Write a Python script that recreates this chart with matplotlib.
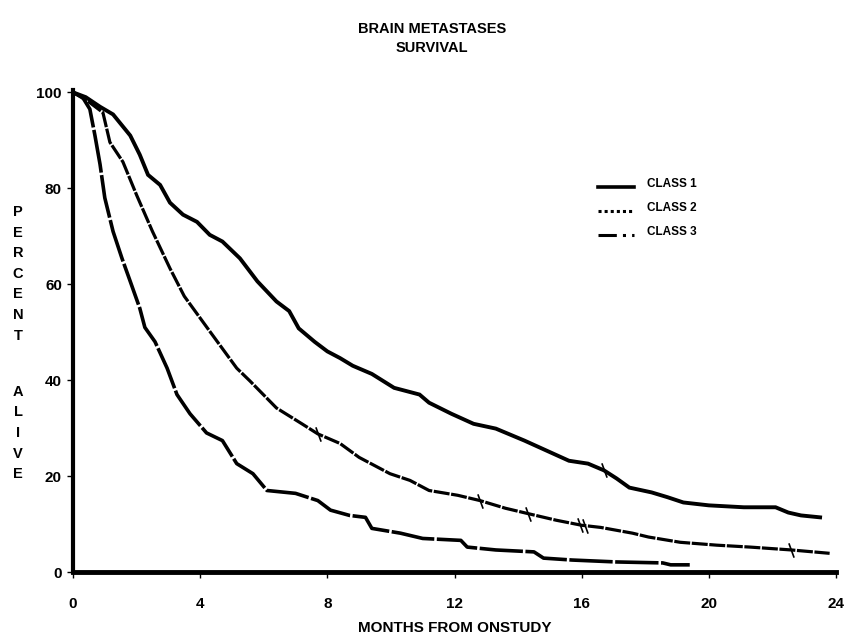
import matplotlib.pyplot as plt
import numpy as np

plt.rcParams['font.family'] = ['Liberation Sans', 'DejaVu Sans']
plt.rcParams['font.weight'] = 'bold'

# survival curves (months, percent alive)
t1 = [0, 0.4, 0.85, 1.26, 1.8, 2.1, 2.36, 2.74, 3.05, 3.46, 3.9, 4.3, 4.7, 5.25, 5.8,
      6.4, 6.8, 7.1, 7.6, 8.0, 8.4, 8.8, 9.4, 10.1, 10.9, 11.2, 11.9, 12.6, 13.3,
      14.2, 14.9, 15.6, 16.2, 16.7, 17.1, 17.5, 18.2, 18.7, 19.2, 20.0, 21.1,
      22.1, 22.5, 22.9, 23.5]
s1 = [100, 99, 97, 95.4, 91, 87, 82.8, 80.7, 77, 74.5, 73, 70.3, 68.9, 65.4, 60.6,
      56.4, 54.4, 50.8, 48, 46, 44.6, 43, 41.3, 38.4, 37, 35.3, 33, 30.9, 29.9,
      27.4, 25.3, 23.2, 22.6, 21.2, 19.5, 17.6, 16.6, 15.6, 14.5, 13.9, 13.5,
      13.5, 12.4, 11.8, 11.4]

t2 = [0, 0.5, 0.94, 1.16, 1.57, 2.0, 2.5, 3.05, 3.5, 4.3, 5.15, 5.57, 6.4, 7.2, 7.7,
      8.4, 9.0, 9.97, 10.6, 11.2, 12.1, 12.8, 13.6, 14.3, 15.2, 16.0, 16.6, 17.6,
      18.1, 19.1, 20.25, 21.3, 22.6, 23.8]
s2 = [100, 98, 95.8, 89.6, 85.5, 78.6, 71, 63.3, 57.5, 50.2, 42.5, 39.8, 34.2, 30.9,
      28.8, 26.8, 23.9, 20.5, 19.1, 17, 16, 14.9, 13.3, 12.2, 10.8, 9.75, 9.3, 8.1,
      7.3, 6.2, 5.6, 5.2, 4.6, 3.9]

t3 = [0, 0.3, 0.53, 0.69, 0.85, 1.0, 1.26, 1.54, 1.8, 2.1, 2.26, 2.58, 2.96, 3.27,
      3.68, 4.2, 4.7, 5.15, 5.66, 6.1, 7.0, 7.7, 8.1, 8.7, 9.2, 9.4, 10.3, 11.0,
      12.2, 12.4, 13.3, 14.5, 14.8, 15.7, 17.1, 18.55, 18.8, 19.4]
s3 = [100, 99, 96.5, 91, 85, 78, 71, 65.4, 60.6, 55, 51, 48, 42.5, 37, 33, 29, 27.4,
      22.6, 20.5, 17, 16.4, 14.9, 12.9, 11.8, 11.4, 9.1, 8.1, 7.0, 6.6, 5.2, 4.6,
      4.2, 2.9, 2.5, 2.1, 1.9, 1.5, 1.5]

# censored observations (tick marks on the curves)
cens1_t = [16.7]
cens1_s = [21.2]
cens2_t = [7.7, 12.8, 14.3, 15.95, 16.1, 22.6]
cens2_s = [28.8, 14.9, 12.2, 9.8, 9.7, 4.6]

fig = plt.figure(figsize=(8.47, 6.38), dpi=100)
ax = fig.add_axes([0.0862, 0.1034, 0.9008, 0.7556])

ax.plot(t1, s1, color='black', lw=2.8, solid_joinstyle='miter')
ax.plot(t2, s2, color='black', lw=2.3, linestyle=(0, (5, 0.5)))
ax.plot(t3, s3, color='black', lw=2.6, linestyle=(0, (12, 0.7)))

tick = (2, 0, 20)
ax.plot(cens1_t, cens1_s, ls='none', marker=tick, ms=11, mew=1.2, color='black')
ax.plot(cens2_t, cens2_s, ls='none', marker=tick, ms=11, mew=1.2, color='black')

# legend drawn by hand like the original
lx0, lx1, lxt = 16.5, 17.65, 18.05
ax.plot([lx0, lx1], [80.3, 80.3], color='black', lw=2.6, clip_on=False)
ax.plot([lx0, lx1], [75.3, 75.3], color='black', lw=2.2, ls=(0, (1, 1)), clip_on=False)
ax.plot([lx0, lx1], [70.3, 70.3], color='black', lw=2.2, ls=(0, (6, 2, 1, 2)), clip_on=False)
ax.text(lxt, 80.8, 'CLASS 1', fontsize=8.5, fontweight='bold', va='center')
ax.text(lxt, 75.8, 'CLASS 2', fontsize=8.5, fontweight='bold', va='center')
ax.text(lxt, 70.8, 'CLASS 3', fontsize=8.5, fontweight='bold', va='center')

ax.set_xlim(0, 24)
ax.set_ylim(0, 100.5)
ax.set_xticks([0, 4, 8, 12, 16, 20, 24])
ax.set_yticks([0, 20, 40, 60, 80, 100])
ax.tick_params(axis='x', direction='out', length=4, width=1, pad=14, labelsize=11)
ax.tick_params(axis='y', direction='out', length=4, width=1, pad=4, labelsize=11)
for lab in ax.get_xticklabels() + ax.get_yticklabels():
    lab.set_fontweight('bold')

for side in ['top', 'right']:
    ax.spines[side].set_visible(False)
ax.spines['left'].set_linewidth(3)
ax.spines['bottom'].set_linewidth(3.5)

fig.text(0.51, 0.955, 'BRAIN METASTASES', ha='center', va='center', fontsize=10.5, fontweight='bold')
fig.text(0.51, 0.924, 'SURVIVAL', ha='center', va='center', fontsize=10.5, fontweight='bold')
ax.set_xlabel('MONTHS FROM ONSTUDY', fontsize=11, fontweight='bold', labelpad=7)

# vertical stacked y label
letters = 'PERCENT ALIVE'
y0 = 212
for i, ch in enumerate(letters):
    if ch == ' ':
        continue
    yy = y0 + i * 20.6 + (15 if i > 7 else 0)
    fig.text(18 / 847, 1 - yy / 638, ch, ha='center', va='center', fontsize=10.5, fontweight='bold')

fig.savefig('out.png', dpi=100)
